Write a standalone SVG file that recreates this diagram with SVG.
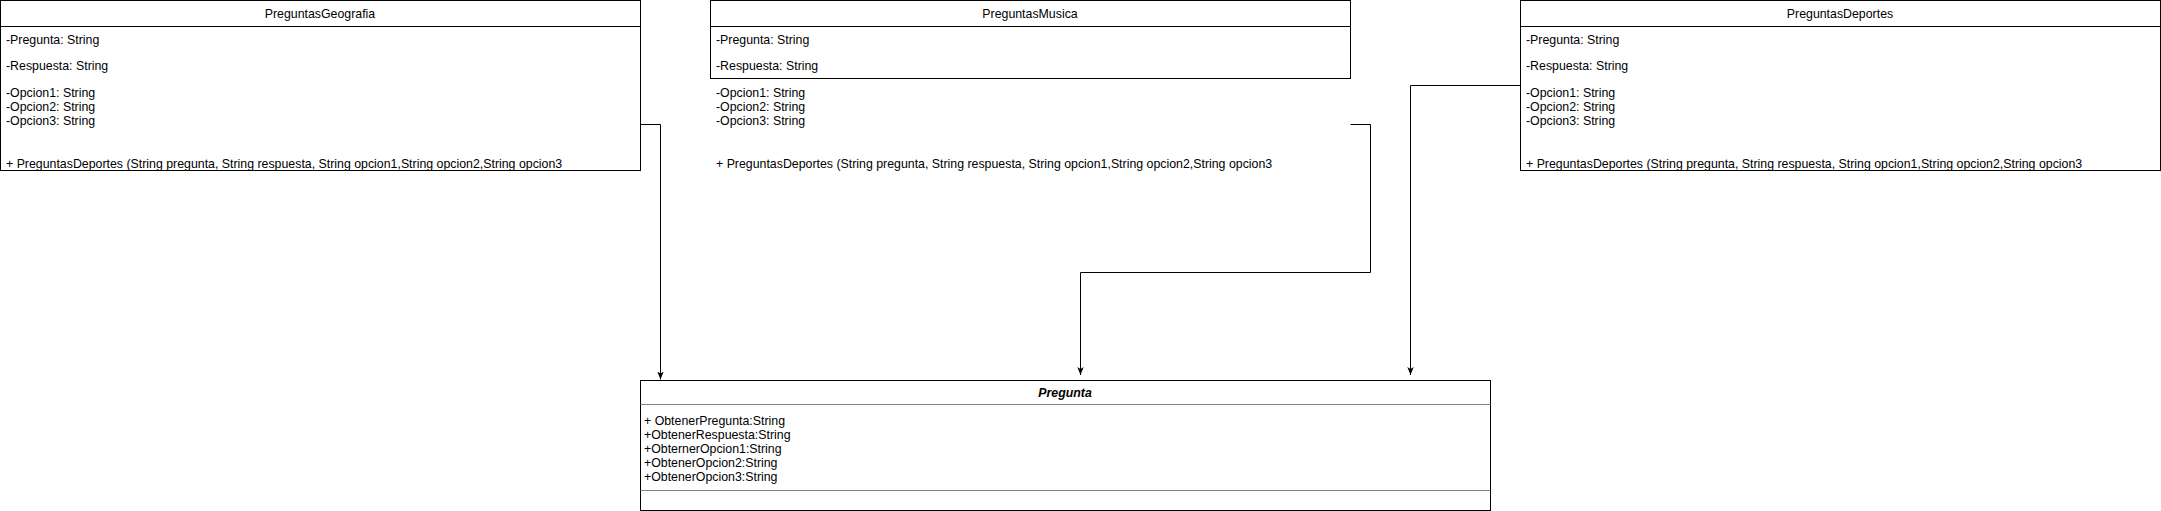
<svg xmlns="http://www.w3.org/2000/svg" width="2161" height="511" viewBox="0 0 2161 511">
<style>
text{font-family:"Liberation Sans",Arial,sans-serif;font-size:12.35px;fill:#000}
.c{text-anchor:middle}
.box{fill:#fff;stroke:#000;stroke-width:1}
.sep{stroke:#000;stroke-width:1}
.gsep{stroke:#808080;stroke-width:1}
.edge{fill:none;stroke:#000;stroke-width:1}
.bi{font-weight:bold;font-style:italic}
</style>
<defs>
<marker id="arr" viewBox="0 0 10 8" refX="10" refY="4" markerWidth="8" markerHeight="7" markerUnits="userSpaceOnUse" orient="auto">
<path d="M0,0 L10,4 L0,8 L2.5,4 Z" fill="#000"/>
</marker>
</defs>
<rect width="2161" height="511" fill="#fff"/>
<g id="connectors">
<path class="edge" d="M640.5,124.5 H660.5 V379.5" marker-end="url(#arr)"/>
<path class="edge" d="M1350.5,124.5 H1370.5 V272.5 H1080.5 V375" marker-end="url(#arr)"/>
<path class="edge" d="M1520.5,85.5 H1410.5 V375" marker-end="url(#arr)"/>
</g>
<g id="PreguntasGeografia">
<rect class="box" x="0.5" y="0.5" width="640" height="170"/>
<line class="sep" x1="0.5" y1="26.5" x2="640.5" y2="26.5"/>
<text class="c" x="320" y="18">PreguntasGeografia</text>
<text x="6" y="44">-Pregunta: String</text>
<text x="6" y="70">-Respuesta: String</text>
<text x="6" y="96.5">-Opcion1: String</text>
<text x="6" y="110.5">-Opcion2: String</text>
<text x="6" y="124.5">-Opcion3: String</text>
<text x="6" y="167.5">+ PreguntasDeportes (String pregunta, String respuesta, String opcion1,String opcion2,String opcion3</text>
</g>
<g id="PreguntasMusica">
<rect class="box" x="710.5" y="0.5" width="640" height="78"/>
<line class="sep" x1="710.5" y1="26.5" x2="1350.5" y2="26.5"/>
<text class="c" x="1030" y="18">PreguntasMusica</text>
<text x="716" y="44">-Pregunta: String</text>
<text x="716" y="70">-Respuesta: String</text>
<text x="716" y="96.5">-Opcion1: String</text>
<text x="716" y="110.5">-Opcion2: String</text>
<text x="716" y="124.5">-Opcion3: String</text>
<text x="716" y="167.5">+ PreguntasDeportes (String pregunta, String respuesta, String opcion1,String opcion2,String opcion3</text>
</g>
<g id="PreguntasDeportes">
<rect class="box" x="1520.5" y="0.5" width="640" height="170"/>
<line class="sep" x1="1520.5" y1="26.5" x2="2160.5" y2="26.5"/>
<text class="c" x="1840" y="18">PreguntasDeportes</text>
<text x="1526" y="44">-Pregunta: String</text>
<text x="1526" y="70">-Respuesta: String</text>
<text x="1526" y="96.5">-Opcion1: String</text>
<text x="1526" y="110.5">-Opcion2: String</text>
<text x="1526" y="124.5">-Opcion3: String</text>
<text x="1526" y="167.5">+ PreguntasDeportes (String pregunta, String respuesta, String opcion1,String opcion2,String opcion3</text>
</g>
<g id="Pregunta">
<rect class="box" x="640.5" y="380.5" width="850" height="130"/>
<line class="gsep" x1="640.5" y1="404.5" x2="1490.5" y2="404.5"/>
<line class="gsep" x1="640.5" y1="490.5" x2="1490.5" y2="490.5"/>
<text class="c bi" x="1065" y="397">Pregunta</text>
<text x="644" y="424.5">+ ObtenerPregunta:String</text>
<text x="644" y="438.5">+ObtenerRespuesta:String</text>
<text x="644" y="452.5">+ObternerOpcion1:String</text>
<text x="644" y="467">+ObtenerOpcion2:String</text>
<text x="644" y="481">+ObtenerOpcion3:String</text>
</g>
</svg>
